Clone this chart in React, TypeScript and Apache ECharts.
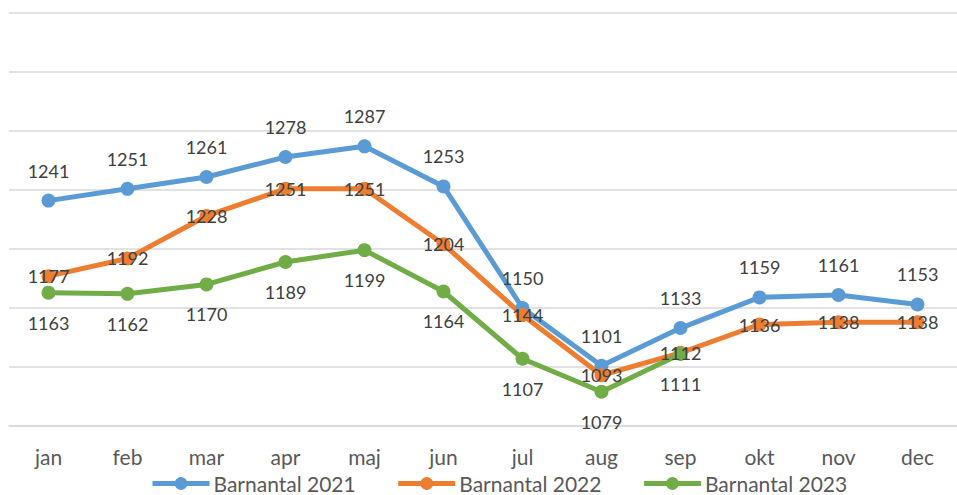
import React, { useEffect, useRef } from "react";
import * as echarts from "echarts";

const months = ["jan", "feb", "mar", "apr", "maj", "jun", "jul", "aug", "sep", "okt", "nov", "dec"];
const barn2021 = [1241, 1251, 1261, 1278, 1287, 1253, 1150, 1101, 1133, 1159, 1161, 1153];
const barn2022 = [1177, 1192, 1228, 1251, 1251, 1204, 1144, 1093, 1112, 1136, 1138, 1138];
const barn2023 = [1163, 1162, 1170, 1189, 1199, 1164, 1107, 1079, 1111, null, null, null];

const FONT = "Lato";
const TXT = "#404040";

export default function App() {
  const ref = useRef<HTMLDivElement>(null);
  useEffect(() => {
    if (!ref.current) return;
    const chart = echarts.init(ref.current, undefined, { renderer: "svg" });
    const mk = (name: string, data: (number | null)[], color: string, pos: string) => ({
      name,
      type: "line",
      data,
      symbol: "circle",
      symbolSize: 14,
      connectNulls: false,
      lineStyle: { color, width: 5 },
      itemStyle: { color },
      label: {
        show: true,
        position: pos,
        distance: 14,
        color: TXT,
        fontFamily: FONT,
        fontSize: 18,
      },
    });
    chart.setOption({
      animation: false,
      backgroundColor: "#ffffff",
      textStyle: { fontFamily: FONT },
      grid: { left: 9, top: 13, width: 960, height: 413, containLabel: false },
      xAxis: {
        type: "category",
        data: months,
        boundaryGap: true,
        axisLine: { show: true, lineStyle: { color: "#D9D9D9", width: 1.5 } },
        axisTick: { show: false },
        axisLabel: { color: "#595959", fontFamily: FONT, fontSize: 21, margin: 20 },
      },
      yAxis: {
        type: "value",
        min: 1050,
        max: 1400,
        interval: 50,
        axisLabel: { show: false },
        axisLine: { show: false },
        axisTick: { show: false },
        splitLine: { show: true, lineStyle: { color: "#D9D9D9", width: 1.5 } },
      },
      legend: {
        left: 150,
        top: 473,
        padding: 0,
        itemWidth: 57,
        itemHeight: 16,
        itemGap: 40,
        lineStyle: { width: 5 },
        textStyle: {
          color: "#595959",
          fontFamily: FONT,
          fontSize: 21,
          padding: [0, 0, 0, -1],
        },
      },
      series: [
        mk("Barnantal 2021", barn2021, "#5B9BD5", "top"),
        mk("Barnantal 2022", barn2022, "#ED7D31", "inside"),
        mk("Barnantal 2023", barn2023, "#70AD47", "bottom"),
      ],
    });
    return () => chart.dispose();
  }, []);
  return <div ref={ref} style={{ position: "fixed", left: 0, top: 0, width: 957, height: 495 }} />;
}
